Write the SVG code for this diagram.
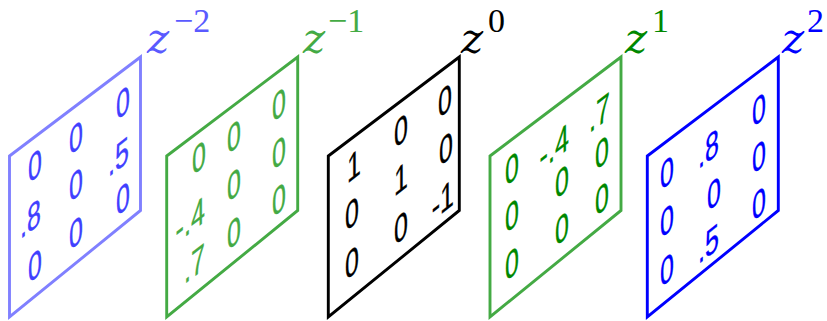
<svg xmlns="http://www.w3.org/2000/svg" width="827" height="321" viewBox="0 0 827 321">
<style>
.fr{fill:none;stroke-width:2.9;stroke-linejoin:miter}
.d{font-family:"Liberation Sans",Arial,sans-serif;font-size:38px;text-anchor:middle;stroke-width:0.3}
.zi{font-family:"DejaVu Serif",serif;font-style:italic;font-size:42px}
.sp{font-family:"Liberation Serif","Times New Roman",serif;font-style:normal;font-size:34px}
</style>
<rect width="827" height="321" fill="#fff"/>
<g id="panel-zm2">
<polygon class="fr" stroke="#8080ff" points="9.5,156 140.5,57 140.5,210.5 9.5,317"/>
<g class="d" fill="#4040ff" stroke="#4040ff">
<text transform="matrix(0.66,-0.519,0,1,35,178.6)">0</text>
<text transform="matrix(0.66,-0.519,0,1,30.4,231.4)">.8</text>
<text transform="matrix(0.66,-0.519,0,1,35,278.6)">0</text>
<text transform="matrix(0.66,-0.519,0,1,76,150.6)">0</text>
<text transform="matrix(0.66,-0.519,0,1,76,197.6)">0</text>
<text transform="matrix(0.66,-0.519,0,1,76,245.6)">0</text>
<text transform="matrix(0.66,-0.519,0,1,123,115.6)">0</text>
<text transform="matrix(0.66,-0.519,0,1,118.4,169.4)">.5</text>
<text transform="matrix(0.66,-0.519,0,1,123,211.6)">0</text>
</g>
<text fill="#5a5aff"><tspan class="zi" x="147" y="53">z</tspan><tspan class="sp" x="174" y="32">−2</tspan></text>
</g>
<g id="panel-zm1">
<polygon class="fr" stroke="#44aa44" points="166.7,156 297.7,57 297.7,210.5 166.7,317"/>
<g class="d" fill="#44aa44" stroke="#44aa44">
<text transform="matrix(0.66,-0.519,0,1,199,170.6)">0</text>
<text transform="matrix(0.66,-0.519,0,1,190.2,232.7)">-.4</text>
<text transform="matrix(0.66,-0.519,0,1,194.4,276.4)">.7</text>
<text transform="matrix(0.66,-0.519,0,1,234,149.6)">0</text>
<text transform="matrix(0.66,-0.519,0,1,234,197.6)">0</text>
<text transform="matrix(0.66,-0.519,0,1,234,245.6)">0</text>
<text transform="matrix(0.66,-0.519,0,1,279,117.6)">0</text>
<text transform="matrix(0.66,-0.519,0,1,279,165.6)">0</text>
<text transform="matrix(0.66,-0.519,0,1,279,212.6)">0</text>
</g>
<text fill="#44aa44"><tspan class="zi" x="303" y="53">z</tspan><tspan class="sp" x="328" y="32">−1</tspan></text>
</g>
<g id="panel-z0">
<polygon class="fr" stroke="#000" points="328.3,156 459.3,57 459.3,210.5 328.3,317"/>
<g class="d" fill="#000" stroke="#000">
<text transform="matrix(0.66,-0.519,0,1,354,178.6)">1</text>
<text transform="matrix(0.66,-0.519,0,1,352,226.6)">0</text>
<text transform="matrix(0.66,-0.519,0,1,352,275.6)">0</text>
<text transform="matrix(0.66,-0.519,0,1,401,143.6)">0</text>
<text transform="matrix(0.66,-0.519,0,1,401,191.6)">1</text>
<text transform="matrix(0.66,-0.519,0,1,401,240.6)">0</text>
<text transform="matrix(0.66,-0.519,0,1,445,113.6)">0</text>
<text transform="matrix(0.66,-0.519,0,1,446,161.6)">0</text>
<text transform="matrix(0.66,-0.519,0,1,442.8,212.9)">-1</text>
</g>
<text fill="#000"><tspan class="zi" x="461" y="53">z</tspan><tspan class="sp" x="488" y="32">0</tspan></text>
</g>
<g id="panel-z1">
<polygon class="fr" stroke="#44aa44" points="490,156 621,57 621,210.5 490,317"/>
<g class="d" fill="#008800" stroke="#008800">
<text transform="matrix(0.66,-0.519,0,1,512,181.6)">0</text>
<text transform="matrix(0.66,-0.519,0,1,512,228.6)">0</text>
<text transform="matrix(0.66,-0.519,0,1,512,276.6)">0</text>
<text transform="matrix(0.66,-0.519,0,1,554.2,159.7)">-.4</text>
<text transform="matrix(0.66,-0.519,0,1,562,194.6)">0</text>
<text transform="matrix(0.66,-0.519,0,1,562,241.6)">0</text>
<text transform="matrix(0.66,-0.519,0,1,599.4,125.4)">.7</text>
<text transform="matrix(0.66,-0.519,0,1,602,165.6)">0</text>
<text transform="matrix(0.66,-0.519,0,1,602,211.6)">0</text>
</g>
<text fill="#008800"><tspan class="zi" x="625" y="53">z</tspan><tspan class="sp" x="652" y="32">1</tspan></text>
</g>
<g id="panel-z2">
<polygon class="fr" stroke="#0000ff" points="647.3,156 778.3,57 778.3,210.5 647.3,317"/>
<g class="d" fill="#0000ff" stroke="#0000ff">
<text transform="matrix(0.66,-0.519,0,1,667,185.6)">0</text>
<text transform="matrix(0.66,-0.519,0,1,667,233.6)">0</text>
<text transform="matrix(0.66,-0.519,0,1,667,282.6)">0</text>
<text transform="matrix(0.66,-0.519,0,1,708.4,161.4)">.8</text>
<text transform="matrix(0.66,-0.519,0,1,714,206.6)">0</text>
<text transform="matrix(0.66,-0.519,0,1,708.4,256.4)">.5</text>
<text transform="matrix(0.66,-0.519,0,1,759,122.6)">0</text>
<text transform="matrix(0.66,-0.519,0,1,759,169.6)">0</text>
<text transform="matrix(0.66,-0.519,0,1,759,216.6)">0</text>
</g>
<text fill="#0000ff"><tspan class="zi" x="782" y="53">z</tspan><tspan class="sp" x="807" y="32">2</tspan></text>
</g>
<g id="connectors"/>
</svg>
